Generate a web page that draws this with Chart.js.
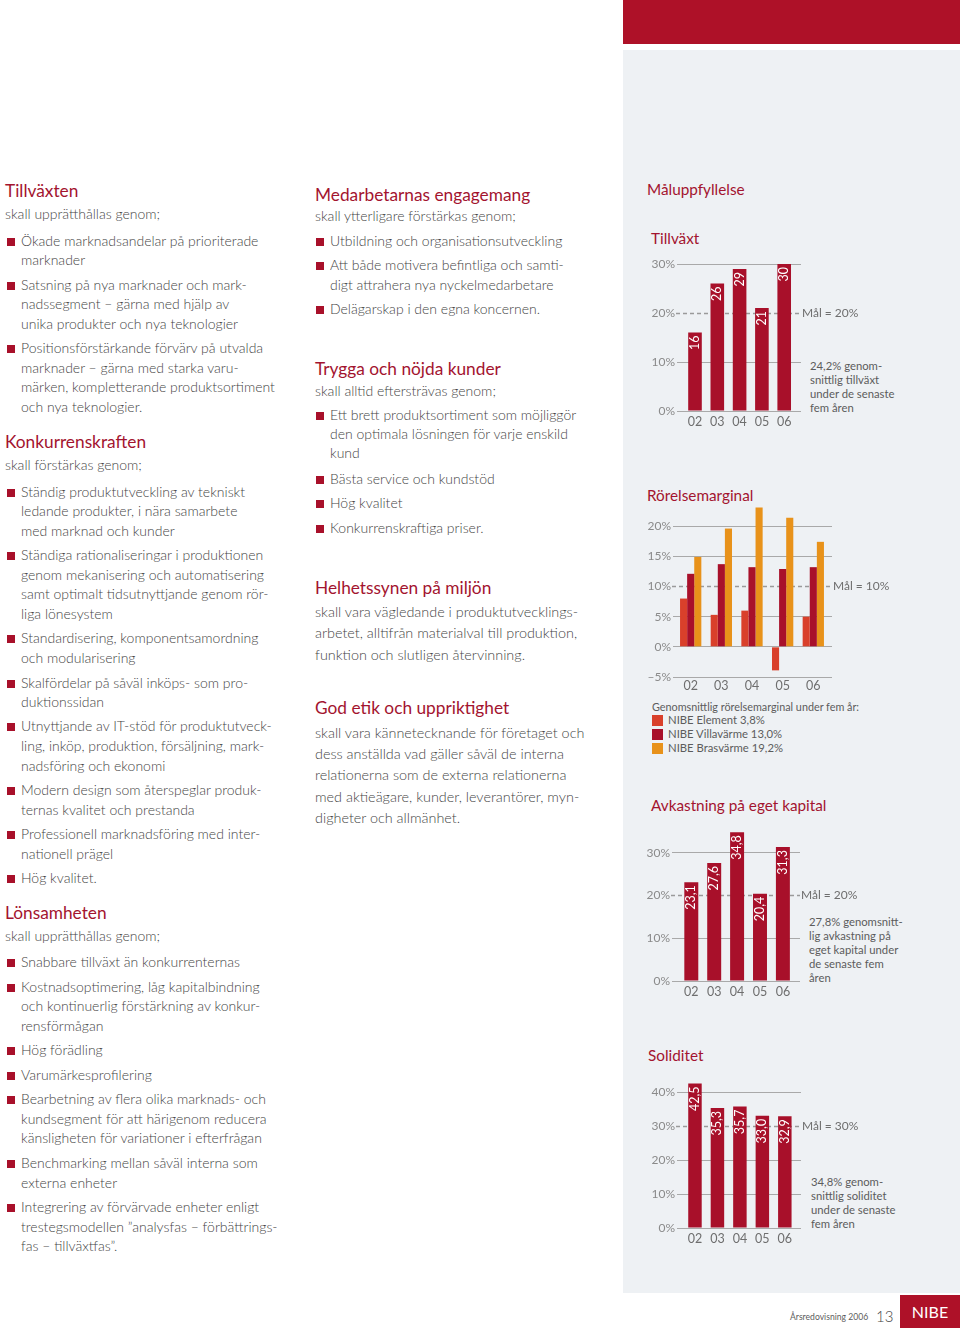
<!DOCTYPE html>
<html>
<head>
<meta charset="utf-8">
<script src="https://cdn.jsdelivr.net/npm/chart.js@4.4.0/dist/chart.umd.min.js"></script>
<style>
  body { margin: 0; width: 960px; height: 1328px; position: relative; overflow: hidden; background: #fff;
         font-family: Lato, "Noto Sans", sans-serif; color: #454545; }
  .t { position: absolute; white-space: nowrap; line-height: 1; transform: translateY(-50%); }
  .h { color: #a3142f; font-size: 17.3px; }
  .p { font-size: 14px; font-weight: 300; }
  .m { font-size: 14.4px; font-weight: 300; }
  .sq { position: absolute; width: 8px; height: 8px; background: #a8102a; }
  .small { font-size: 11.3px; color: #5c5c5c; }
  .ch { color: #a3142f; font-size: 15.3px; }
  #topbar { position: absolute; left: 623px; top: 0; width: 337px; height: 44px; background: #ae1128; }
  #panel { position: absolute; left: 623px; top: 50px; width: 337px; height: 1243px; background: #eef1f4; }
  canvas { position: absolute; }
</style>
</head>
<body>
<div id="topbar"></div>
<div id="panel"></div>
<div id="texts"></div>

<script>
// ---- data ----
const years = ['02', '03', '04', '05', '06'];

const growthValues = [16, 26, 29, 21, 30];
const growthTicks = [0, 10, 20, 30];
const growthTarget = 20;

const marginNames = ['NIBE Element', 'NIBE Villavärme', 'NIBE Brasvärme'];
const marginAverages = ['3,8%', '13,0%', '19,2%'];
const marginElement = [8.0, 5.3, 6.0, -3.9, 5.0];
const marginVilla = [12.1, 13.7, 13.2, 12.9, 13.2];
const marginBras = [14.9, 19.6, 23.1, 21.4, 17.4];
const marginTicks = [-5, 0, 5, 10, 15, 20];
const marginTarget = 10;

const roeValues = [23.1, 27.6, 34.8, 20.4, 31.3];
const roeTicks = [0, 10, 20, 30];
const roeTarget = 20;

const equityValues = [42.5, 35.3, 35.7, 33.0, 32.9];
const equityTicks = [0, 10, 20, 30, 40];
const equityTarget = 30;

const RED = '#a8102a';
const ORANGE_RED = '#d9402b';
const ORANGE = '#e8921a';
const FONT = 'Lato, "Noto Sans", sans-serif';

// ---- page text ----
// h = heading, p = plain line, m = paragraph line, b = bullet line, c = bullet continuation
const leftCol = [
  ['h', 191, 'Tillväxten'],
  ['p', 214, 'skall upprätthållas genom;'],
  ['b', 241, 'Ökade marknadsandelar på prioriterade'],
  ['c', 260, 'marknader'],
  ['b', 285, 'Satsning på nya marknader och mark-'],
  ['c', 304, 'nadssegment – gärna med hjälp av'],
  ['c', 324, 'unika produkter och nya teknologier'],
  ['b', 348, 'Positionsförstärkande förvärv på utvalda'],
  ['c', 368, 'marknader – gärna med starka varu-'],
  ['c', 387, 'märken, kompletterande produktsortiment'],
  ['c', 407, 'och nya teknologier.'],
  ['h', 442, 'Konkurrenskraften'],
  ['p', 465, 'skall förstärkas genom;'],
  ['b', 492, 'Ständig produktutveckling av tekniskt'],
  ['c', 511, 'ledande produkter, i nära samarbete'],
  ['c', 531, 'med marknad och kunder'],
  ['b', 555, 'Ständiga rationaliseringar i produktionen'],
  ['c', 575, 'genom mekanisering och automatisering'],
  ['c', 594, 'samt optimalt tidsutnyttjande genom rör-'],
  ['c', 614, 'liga lönesystem'],
  ['b', 638, 'Standardisering, komponentsamordning'],
  ['c', 658, 'och modularisering'],
  ['b', 683, 'Skalfördelar på såväl inköps- som pro-'],
  ['c', 702, 'duktionssidan'],
  ['b', 726, 'Utnyttjande av IT-stöd för produktutveck-'],
  ['c', 746, 'ling, inköp, produktion, försäljning, mark-'],
  ['c', 766, 'nadsföring och ekonomi'],
  ['b', 790, 'Modern design som återspeglar produk-'],
  ['c', 810, 'ternas kvalitet och prestanda'],
  ['b', 834, 'Professionell marknadsföring med inter-'],
  ['c', 854, 'nationell prägel'],
  ['b', 878, 'Hög kvalitet.'],
  ['h', 913, 'Lönsamheten'],
  ['p', 936, 'skall upprätthållas genom;'],
  ['b', 962, 'Snabbare tillväxt än konkurrenternas'],
  ['b', 987, 'Kostnadsoptimering, låg kapitalbindning'],
  ['c', 1006, 'och kontinuerlig förstärkning av konkur-'],
  ['c', 1026, 'rensförmågan'],
  ['b', 1050, 'Hög förädling'],
  ['b', 1075, 'Varumärkesprofilering'],
  ['b', 1099, 'Bearbetning av flera olika marknads- och'],
  ['c', 1119, 'kundsegment för att härigenom reducera'],
  ['c', 1138, 'känsligheten för variationer i efterfrågan'],
  ['b', 1163, 'Benchmarking mellan såväl interna som'],
  ['c', 1183, 'externa enheter'],
  ['b', 1207, 'Integrering av förvärvade enheter enligt'],
  ['c', 1227, 'trestegsmodellen ”analysfas – förbättrings-'],
  ['c', 1246, 'fas – tillväxtfas”.']
];

const midCol = [
  ['h', 195, 'Medarbetarnas engagemang'],
  ['p', 216, 'skall ytterligare förstärkas genom;'],
  ['b', 241, 'Utbildning och organisationsutveckling'],
  ['b', 265, 'Att både motivera befintliga och samti-'],
  ['c', 285, 'digt attrahera nya nyckelmedarbetare'],
  ['b', 309, 'Delägarskap i den egna koncernen.'],
  ['h', 369, 'Trygga och nöjda kunder'],
  ['p', 391, 'skall alltid eftersträvas genom;'],
  ['b', 415, 'Ett brett produktsortiment som möjliggör'],
  ['c', 434, 'den optimala lösningen för varje enskild'],
  ['c', 453, 'kund'],
  ['b', 479, 'Bästa service och kundstöd'],
  ['b', 503, 'Hög kvalitet'],
  ['b', 528, 'Konkurrenskraftiga priser.'],
  ['h', 588, 'Helhetssynen på miljön'],
  ['m', 612, 'skall vara vägledande i produktutvecklings-'],
  ['m', 633, 'arbetet, alltifrån materialval till produktion,'],
  ['m', 655, 'funktion och slutligen återvinning.'],
  ['h', 708, 'God etik och uppriktighet'],
  ['m', 733, 'skall vara kännetecknande för företaget och'],
  ['m', 754, 'dess anställda vad gäller såväl de interna'],
  ['m', 775, 'relationerna som de externa relationerna'],
  ['m', 797, 'med aktieägare, kunder, leverantörer, myn-'],
  ['m', 818, 'digheter och allmänhet.']
];

const texts = document.getElementById('texts');

function addText(x, y, str, cls, extra) {
  const d = document.createElement('div');
  d.className = 't ' + cls;
  d.style.left = x + 'px';
  d.style.top = y + 'px';
  if (extra) Object.assign(d.style, extra);
  d.textContent = str;
  texts.appendChild(d);
  return d;
}

function addColumn(rows, x, bulletX, textX) {
  rows.forEach(([kind, y, str]) => {
    if (kind === 'h' || kind === 'p' || kind === 'm') addText(x, y, str, kind);
    else {
      if (kind === 'b') {
        const sq = document.createElement('div');
        sq.className = 'sq';
        sq.style.left = bulletX + 'px';
        sq.style.top = (y - 3) + 'px';
        texts.appendChild(sq);
      }
      addText(textX, y, str, 'p');
    }
  });
}

addColumn(leftCol, 5, 7, 21);
addColumn(midCol, 315, 316, 330);

// right column headings and notes
addText(647, 190, 'Måluppfyllelse', 'ch');
addText(651, 239, 'Tillväxt', 'ch');
addText(647, 496, 'Rörelsemarginal', 'ch');
addText(651, 806, 'Avkastning på eget kapital', 'ch');
addText(648, 1056, 'Soliditet', 'ch');

['24,2% genom-', 'snittlig tillväxt', 'under de senaste', 'fem åren']
  .forEach((s, i) => addText(810, 366 + i * 14, s, 'small'));
['27,8% genomsnitt-', 'lig avkastning på', 'eget kapital under', 'de senaste fem', 'åren']
  .forEach((s, i) => addText(809, 922 + i * 14, s, 'small'));
['34,8% genom-', 'snittlig soliditet', 'under de senaste', 'fem åren']
  .forEach((s, i) => addText(811, 1182 + i * 14, s, 'small'));

// legend for the margin chart
addText(652, 707, 'Genomsnittlig rörelsemarginal under fem år:', 'small', { fontSize: '10.8px' });
[ORANGE_RED, RED, ORANGE].forEach((col, i) => {
  const y = 720 + i * 14;
  const sq = document.createElement('div');
  sq.style.cssText = `position:absolute;left:652px;top:${y - 5.5}px;width:11px;height:11px;background:${col}`;
  texts.appendChild(sq);
  addText(668, y, marginNames[i] + ' ' + marginAverages[i], 'small');
});

// footer
addText(790, 1317, 'Årsredovisning 2006', 'small', { fontSize: '8.6px' });
addText(876, 1316, '13', 'p', { fontSize: '15px' });
const nibe = document.createElement('div');
nibe.style.cssText = 'position:absolute;left:900px;top:1295px;width:60px;height:33px;background:#ae1128;color:#fff;font-size:16px;line-height:33px;text-align:center;';
nibe.textContent = 'NIBE';
texts.appendChild(nibe);

// ---- charts ----
const targetLine = {
  id: 'targetLine',
  beforeDatasetsDraw(chart, args, o) {
    const ctx = chart.ctx;
    const y = Math.round(chart.scales.y.getPixelForValue(o.value)) + 0.5;
    const { left, right } = chart.chartArea;
    ctx.save();
    ctx.strokeStyle = '#9a9a9a';
    ctx.lineWidth = 1.5;
    ctx.setLineDash([4, 3]);
    ctx.beginPath();
    ctx.moveTo(left - 1, y);
    ctx.lineTo(right, y);
    ctx.stroke();
    ctx.restore();
  },
  afterDraw(chart, args, o) {
    const ctx = chart.ctx;
    const y = chart.scales.y.getPixelForValue(o.value);
    ctx.save();
    ctx.fillStyle = '#6e6e6e';
    ctx.font = '12px ' + FONT;
    ctx.textBaseline = 'middle';
    ctx.fillText('Mål = ' + o.value + '%', chart.chartArea.right + 1, y);
    ctx.restore();
  }
};

const barValues = {
  id: 'barValues',
  afterDatasetsDraw(chart, args, o) {
    if (!o.format) return;
    const ctx = chart.ctx;
    const ds = chart.data.datasets[0];
    chart.getDatasetMeta(0).data.forEach((bar, i) => {
      ctx.save();
      ctx.translate(bar.x, bar.y + 3);
      ctx.rotate(-Math.PI / 2);
      ctx.textAlign = 'right';
      ctx.textBaseline = 'middle';
      ctx.fillStyle = '#fff';
      ctx.font = '12.5px ' + FONT;
      ctx.fillText(o.format(ds.data[i].y), 0, 0);
      ctx.restore();
    });
  }
};

const YW = 40, XH = 22, PT = 12, PR = 75;

function barChart(g, datasets, ticks, target, format) {
  const canvas = document.createElement('canvas');
  const left = g.x0 - YW, top = g.yTop - PT;
  canvas.width = g.x1 + PR - left;
  canvas.height = g.yBot + XH - top;
  canvas.style.left = left + 'px';
  canvas.style.top = top + 'px';
  document.body.appendChild(canvas);

  new Chart(canvas, {
    type: 'bar',
    data: {
      datasets: datasets.map(d => ({
        data: years.map((c, i) => ({ x: i, y: d.values[i] })),
        backgroundColor: d.color,
        borderWidth: 0,
        barPercentage: g.barPct,
        categoryPercentage: g.catPct
      }))
    },
    options: {
      responsive: false,
      animation: false,
      layout: { padding: { top: PT, right: PR, left: 0, bottom: 0 } },
      scales: {
        x: {
          type: 'linear', min: g.imin, max: g.imax, offset: false,
          afterBuildTicks: s => { s.ticks = years.map((c, i) => ({ value: i })); },
          afterFit: s => { s.height = XH; },
          border: { display: false },
          grid: { display: false, drawTicks: false },
          ticks: { padding: g.tp, color: '#6e6e6e', autoSkip: false, maxRotation: 0,
                   font: { family: FONT, size: 12.5 }, callback: v => years[v] }
        },
        y: {
          min: g.ymin, max: g.ymax,
          afterBuildTicks: s => { s.ticks = ticks.map(v => ({ value: v })); },
          afterFit: s => { s.width = YW; },
          border: { display: false },
          grid: {
            drawTicks: false, lineWidth: 1,
            color: c => (c.tick && c.tick.value === target) ? 'rgba(0,0,0,0)' : '#a9a9a9'
          },
          ticks: { padding: 2, color: '#8a8a8a', font: { family: FONT, size: 12 },
                   callback: v => (v < 0 ? '–' + Math.abs(v) : v) + '%' }
        }
      },
      plugins: {
        legend: { display: false },
        tooltip: { enabled: false },
        targetLine: { value: target },
        barValues: { format: format }
      }
    },
    plugins: [targetLine, barValues]
  });
}

const comma = v => v.toFixed(1).replace('.', ',');

barChart({ x0: 677, x1: 801, yTop: 264, yBot: 411, ymin: 0, ymax: 30,
           imin: -0.807, imax: 4.753, tp: 3, barPct: 0.61, catPct: 1 },
         [{ values: growthValues, color: RED }], growthTicks, growthTarget, v => String(v));

barChart({ x0: 673, x1: 832, yTop: 502, yBot: 677, ymin: -5, ymax: 24,
           imin: -0.577, imax: 4.61, tp: 1, barPct: 1, catPct: 0.695 },
         [{ values: marginElement, color: ORANGE_RED },
          { values: marginVilla, color: RED },
          { values: marginBras, color: ORANGE }], marginTicks, marginTarget, null);

barChart({ x0: 672, x1: 800, yTop: 827, yBot: 981, ymin: 0, ymax: 36,
           imin: -0.843, imax: 4.747, tp: 3, barPct: 0.61, catPct: 1 },
         [{ values: roeValues, color: RED }], roeTicks, roeTarget, comma);

barChart({ x0: 677, x1: 801, yTop: 1075, yBot: 1228, ymin: 0, ymax: 45,
           imin: -0.80, imax: 4.72, tp: 3, barPct: 0.6, catPct: 1 },
         [{ values: equityValues, color: RED }], equityTicks, equityTarget, comma);
</script>
</body>
</html>
